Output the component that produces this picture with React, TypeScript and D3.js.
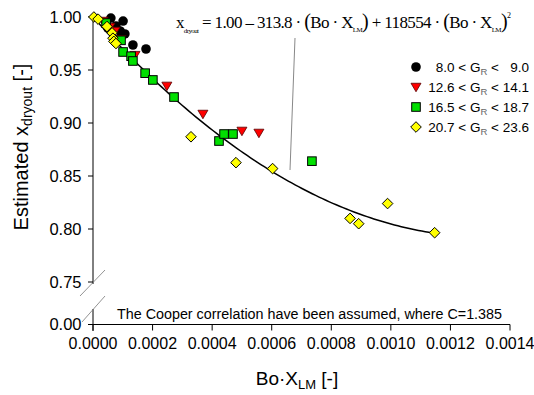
import React from "react";
import * as d3 from "d3";

// ---- data ----
const xTicks = [0, 0.0002, 0.0004, 0.0006, 0.0008, 0.001, 0.0012, 0.0014];
const yTicks = [0.75, 0.8, 0.85, 0.9, 0.95, 1.0];

// 8.0 < GR < 9.0
const blackX = [0.00006, 0.000101, 0.00005, 0.000077, 0.000091, 0.000107, 0.000134, 0.000178];
const blackY = [0.999, 0.9962, 0.9896, 0.9915, 0.9868, 0.984, 0.9736, 0.9698];
// 12.6 < GR < 14.1
const redX = [0.000034, 0.000057, 0.000074, 0.000094, 0.000141, 0.000248, 0.000369, 0.0005, 0.000557];
const redY = [0.9962, 0.9906, 0.9868, 0.979, 0.964, 0.935, 0.9085, 0.8925, 0.8906];
// 16.5 < GR < 18.7
const greenX = [0.000044, 0.000094, 0.000101, 0.000128, 0.000134, 0.000175, 0.000201, 0.000272, 0.000423, 0.00044, 0.00047, 0.000735];
const greenY = [0.9943, 0.978, 0.967, 0.963, 0.9585, 0.947, 0.9406, 0.9245, 0.883, 0.8896, 0.8896, 0.864];
// 20.7 < GR < 23.6
const yellowX = [0.000003, 0.000017, 0.000047, 0.000064, 0.000067, 0.00007, 0.000077, 0.000329, 0.00048, 0.000603, 0.000863, 0.000892, 0.000989, 0.001147];
const yellowY = [1.0, 0.998, 0.991, 0.985, 0.98, 0.977, 0.975, 0.887, 0.8626, 0.857, 0.81, 0.805, 0.824, 0.7965];

const fitA = 1.0;
const fitB = -313.8;
const fitC = 118554;
const fitXMax = 0.00115;

const W = 534;
const H = 395;

export default function App() {
  const x = d3.scaleLinear().domain([0, 0.0014]).range([93, 510]);
  const y = d3.scaleLinear().domain([0.75, 1.0]).range([282, 17]);
  const yZero = 324.5;

  const fitPts: [number, number][] = d3.range(0, 101).map((i) => {
    const v = (fitXMax * i) / 100;
    return [v, fitA + fitB * v + fitC * v * v];
  });
  const line = d3
    .line<[number, number]>()
    .x((d) => x(d[0]))
    .y((d) => y(d[1]))
    .curve(d3.curveLinear);

  const tri = (cx: number, cy: number, s: number) =>
    `M${cx - s},${cy - s * 0.75}L${cx + s},${cy - s * 0.75}L${cx},${cy + s * 0.95}Z`;
  const diamond = (cx: number, cy: number, s: number) =>
    `M${cx},${cy - s}L${cx + s},${cy}L${cx},${cy + s}L${cx - s},${cy}Z`;

  const font = "Arial, 'Liberation Sans', sans-serif";
  const serif = "'Times New Roman', 'Liberation Serif', serif";

  const legend = [
    { kind: "c", lo: "8.0", hi: "  9.0" },
    { kind: "t", lo: "12.6", hi: "14.1" },
    { kind: "s", lo: "16.5", hi: "18.7" },
    { kind: "d", lo: "20.7", hi: "23.6" },
  ];

  const marker = (kind: string, cx: number, cy: number, key: string | number) => {
    if (kind === "c") return <circle key={key} cx={cx} cy={cy} r={4.8} fill="#000" />;
    if (kind === "t")
      return <path key={key} d={tri(cx, cy, 5)} fill="#ff0000" stroke="#550000" strokeWidth={0.8} />;
    if (kind === "s")
      return (
        <rect key={key} x={cx - 4.3} y={cy - 4.3} width={8.6} height={8.6} fill="#00e000" stroke="#000" strokeWidth={1} />
      );
    return <path key={key} d={diamond(cx, cy, 5.3)} fill="#ffff00" stroke="#000" strokeWidth={1} />;
  };

  return (
    <svg
      width={W}
      height={H}
      style={{ position: "absolute", left: 0, top: 0, background: "#fff" }}
      fontFamily={font}
    >
      <rect x={0} y={0} width={W} height={H} fill="#fff" />

      {/* Y axis upper segment */}
      <line x1={93} x2={93} y1={16} y2={284} stroke="#000" strokeWidth={1} />
      {/* Y axis lower segment */}
      <line x1={93} x2={93} y1={309} y2={331} stroke="#000" strokeWidth={1} />
      {/* break marks */}
      <line x1={80} y1={296} x2={105} y2={270} stroke="#777" strokeWidth={0.8} />
      <line x1={82} y1={322} x2={105} y2={296} stroke="#777" strokeWidth={0.8} />

      {/* Y ticks */}
      {yTicks.map((t) => (
        <g key={t}>
          <line x1={88} x2={93} y1={y(t)} y2={y(t)} stroke="#000" />
          <text x={81.5} y={y(t) + 5.8} textAnchor="end" fontSize={16.5} fill="#000">
            {t.toFixed(2)}
          </text>
        </g>
      ))}
      <line x1={88} x2={93} y1={yZero} y2={yZero} stroke="#000" />
      <text x={81.5} y={yZero + 5.8} textAnchor="end" fontSize={16.5} fill="#000">
        0.00
      </text>

      {/* X axis */}
      <line x1={93} x2={510} y1={yZero} y2={yZero} stroke="#000" />
      {xTicks.map((t) => (
        <g key={t}>
          <line x1={x(t)} x2={x(t)} y1={yZero} y2={yZero + 6} stroke="#000" />
          <text x={x(t)} y={349} textAnchor="middle" fontSize={16} fill="#000">
            {t.toFixed(4)}
          </text>
        </g>
      ))}

      {/* axis titles */}
      <text x={297} y={385} textAnchor="middle" fontSize={19} fill="#000">
        Bo·X
        <tspan fontSize={13} dy={4}>LM</tspan>
        <tspan dy={-4}> [-]</tspan>
      </text>
      <text
        transform={`translate(28,147) rotate(-90)`}
        textAnchor="middle"
        fontSize={20}
        fill="#000"
      >
        Estimated x
        <tspan fontSize={14} dy={4}>dryout</tspan>
        <tspan dy={-4}> [-]</tspan>
      </text>

      {/* Cooper note */}
      <text x={117} y={319} fontSize={14} fill="#000" textLength={385} lengthAdjust="spacingAndGlyphs">
        The Cooper correlation have been assumed, where C=1.385
      </text>

      {/* fit curve */}
      <path d={line(fitPts) || ""} fill="none" stroke="#000" strokeWidth={1.5} />

      {/* leader line */}
      <line x1={295} y1={38} x2={290} y2={170} stroke="#888" strokeWidth={1} />

      {/* equation */}
      <text x={176} y={28} fontFamily={serif} fontSize={17} fill="#000" textLength={335} lengthAdjust="spacing">
        x
        <tspan fontSize={7} dy={5}>dryout</tspan>
        <tspan dy={-5}> = 1.00 – 313.8 · </tspan>
        <tspan fontSize={20}>(</tspan>
        <tspan>Bo · X</tspan>
        <tspan fontSize={7} dy={4}>LM</tspan>
        <tspan fontSize={20} dy={-4}>)</tspan>
        <tspan> + 118554 · </tspan>
        <tspan fontSize={20}>(</tspan>
        <tspan>Bo · X</tspan>
        <tspan fontSize={7} dy={4}>LM</tspan>
        <tspan fontSize={20} dy={-4}>)</tspan>
        <tspan fontSize={8} dy={-10}>2</tspan>
      </text>

      {/* data */}
      <g>
        {blackX.map((v, i) => marker("c", x(v), y(blackY[i]), "b" + i))}
        {redX.map((v, i) => marker("t", x(v), y(redY[i]), "r" + i))}
        {greenX.map((v, i) => marker("s", x(v), y(greenY[i]), "g" + i))}
        {yellowX.map((v, i) => marker("d", x(v), y(yellowY[i]), "y" + i))}
      </g>

      {/* legend */}
      {legend.map((l, i) => {
        const cy = 67 + i * 20;
        return (
          <g key={i}>
            {marker(l.kind, 416, cy, "l" + i)}
            <text x={529} y={cy + 5} textAnchor="end" fontSize={13.5} fill="#000" style={{ whiteSpace: "pre" }}>
              {l.lo} {"<"} G
              <tspan fontSize={9.5} dy={3} fill="#666">R</tspan>
              <tspan dy={-3}>{" < " + l.hi}</tspan>
            </text>
          </g>
        );
      })}
    </svg>
  );
}
